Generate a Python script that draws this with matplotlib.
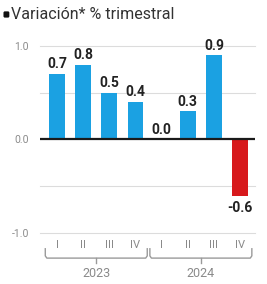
import matplotlib
matplotlib.use("Agg")
import matplotlib.pyplot as plt
from matplotlib.transforms import blended_transform_factory
from matplotlib.patches import FancyBboxPatch

quarters = ["I", "II", "III", "IV", "I", "II", "III", "IV"]
values = [0.7, 0.8, 0.5, 0.4, 0.0, 0.3, 0.9, -0.6]
years = ["2023", "2024"]
value_labels = ["0.7", "0.8", "0.5", "0.4", "0.0", "0.3", "0.9", "-0.6"]
title = "Variación* % trimestral"

blue = "#1BA1E2"
red = "#D7191C"
gray = "#8a8a8a"

plt.rcParams['font.family'] = ['Roboto', 'DejaVu Sans']

fig = plt.figure(figsize=(2.67, 2.84), dpi=100)
ax = fig.add_axes([0.15, 0.18, 0.805, 0.658])

x = list(range(len(values)))
colors = [red if v < 0 else blue for v in values]
ax.bar(x, values, width=0.61, color=colors, zorder=3)

ax.set_xlim(-0.65, 7.57)
ax.set_ylim(-1.0, 1.0)
for s in ax.spines.values():
    s.set_visible(False)
for g in [1.0, 0.5, -0.5, -1.0]:
    ax.axhline(g, color="#dcdcdc", lw=0.8, zorder=1, clip_on=False)
ax.axhline(0, color="#1a1a1a", lw=1.6, zorder=4)

ax.set_yticks([1.0, 0.0, -1.0])
ax.set_yticklabels(["1.0", "0.0", "-1.0"], color=gray, fontsize=7.5)
ax.tick_params(axis="y", length=0, pad=8)
ax.set_xticks(x)
ax.set_xticklabels(quarters, color=gray, fontsize=8)
ax.tick_params(axis="x", length=0, pad=5)

for xi, v, lab in zip(x, values, value_labels):
    if v >= 0:
        ax.annotate(lab, (xi, v), xytext=(0, 2), textcoords="offset points",
                    ha="center", va="bottom", fontsize=10, fontweight="bold", color="#222222")
    else:
        ax.annotate(lab, (xi, v), xytext=(0, -4), textcoords="offset points",
                    ha="center", va="top", fontsize=10, fontweight="bold", color="#222222")

# brackets
tr = blended_transform_factory(ax.transData, ax.transAxes)
yb = -0.135
for gi, yr in enumerate(years):
    x0 = gi * 4 - 0.45
    x1 = gi * 4 + 3 + 0.45
    xm = (x0 + x1) / 2
    ax.plot([x0, x0, x0 + 0.06, x1 - 0.06, x1, x1],
            [yb + 0.05, yb + 0.012, yb, yb, yb + 0.012, yb + 0.05], color="#9a9a9a",
            lw=1.0, transform=tr, clip_on=False, solid_joinstyle="round")
    ax.plot([xm, xm], [yb, yb - 0.025], color="#9a9a9a", lw=1.0, transform=tr, clip_on=False)
    ax.text(xm, yb - 0.05, yr, transform=tr, ha="center", va="top", color=gray, fontsize=9)

# title
fig.patches.append(FancyBboxPatch((0.013, 0.938), 0.022, 0.022, boxstyle="round,pad=0,rounding_size=0.005",
                                  transform=fig.transFigure, facecolor="#111111", edgecolor="none"))
fig.text(0.04, 0.949, title, ha="left", va="center", fontsize=11.5, color="#333333")

fig.savefig("out.png", dpi=100)
